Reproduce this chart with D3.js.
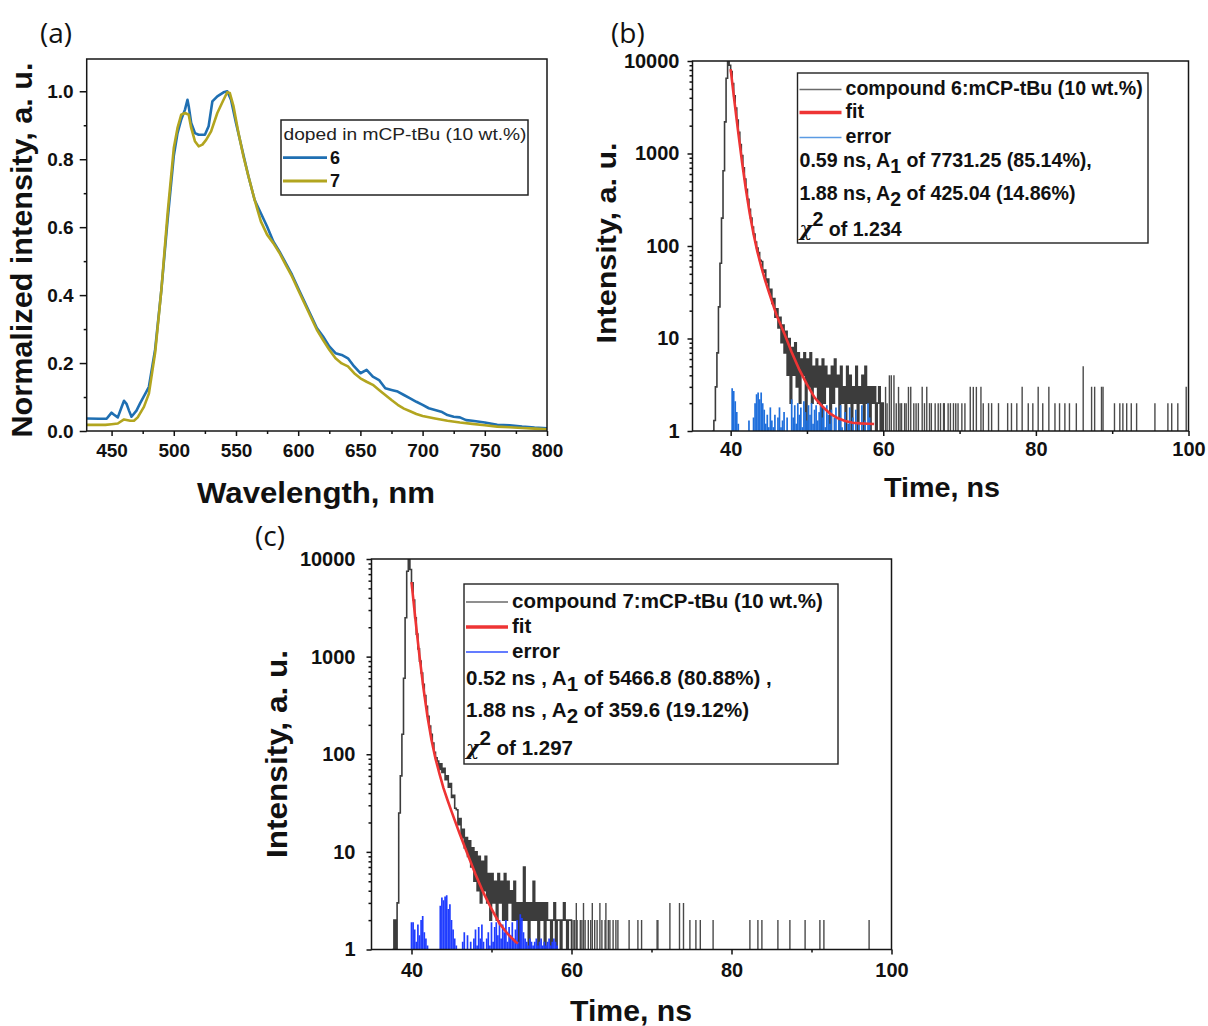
<!DOCTYPE html>
<html><head><meta charset="utf-8">
<script src="https://cdn.jsdelivr.net/npm/d3@7/dist/d3.min.js"></script>
<style>
html,body{margin:0;padding:0;background:#fff;}
svg{display:block;}
</style></head>
<body>
<svg id="fig" width="1208" height="1026" xmlns="http://www.w3.org/2000/svg"></svg>
<script>
// ================= DATA =================
// (a) normalized PL spectra, doped in mCP-tBu (10 wt.%)
const wl6 = [430,440,446,450,452,455,458,460,462,464,466,470,473,478,480,485,490,495,500,503,506,509,511,512,514,517,520,525,528,531,535,540,543,546,550,555,560,565,570,575,580,585,590,595,600,605,610,615,620,625,630,635,640,645,650,655,660,665,670,675,680,685,690,695,700,705,710,715,720,725,730,735,740,750,760,770,780,790,800];
const int6 = [0.037,0.036,0.036,0.054,0.048,0.040,0.070,0.089,0.080,0.060,0.042,0.060,0.082,0.116,0.13,0.24,0.415,0.62,0.81,0.877,0.917,0.946,0.975,0.956,0.907,0.877,0.872,0.872,0.897,0.97,0.985,0.997,1.0,0.975,0.907,0.828,0.75,0.68,0.641,0.602,0.558,0.528,0.494,0.46,0.42,0.381,0.342,0.303,0.278,0.249,0.229,0.224,0.214,0.19,0.17,0.18,0.16,0.15,0.126,0.121,0.116,0.106,0.096,0.086,0.077,0.067,0.062,0.057,0.047,0.042,0.04,0.032,0.03,0.025,0.018,0.017,0.013,0.01,0.008];
const wl7 = [430,445,450,455,460,465,468,471,476,480,485,490,495,500,503,506,509,512,514,517,520,523,526,530,535,540,543,545,548,552,556,560,565,570,575,580,585,590,595,600,605,610,615,620,625,630,635,640,645,650,655,660,665,670,675,680,685,690,695,700,710,720,730,740,750,760,770,780,790,800];
const int7 = [0.018,0.018,0.02,0.022,0.034,0.03,0.03,0.04,0.071,0.11,0.23,0.415,0.64,0.833,0.892,0.931,0.936,0.931,0.892,0.853,0.838,0.843,0.857,0.882,0.936,0.975,0.997,0.995,0.956,0.877,0.808,0.75,0.68,0.617,0.578,0.553,0.524,0.489,0.455,0.415,0.376,0.337,0.298,0.268,0.239,0.214,0.199,0.19,0.17,0.155,0.145,0.136,0.121,0.106,0.091,0.077,0.066,0.058,0.05,0.044,0.037,0.03,0.025,0.021,0.017,0.013,0.011,0.009,0.007,0.005];
const xTicksA = [450,500,550,600,650,700,750,800];
const xMinorA = [475,525,575,625,675,725,775];
const yTicksA = [0,0.2,0.4,0.6,0.8,1.0];
const yMinorA = [0.1,0.3,0.5,0.7,0.9];

// common time axis ticks
const xTicksT = [40,60,80,100];
const xMinorT = [50,70,90];
const yTicksLog = [1,10,100,1000,10000];

// (b) compound 6 decay: counts per channel (start time, channel width)
const decayB_start = 37.6, decayB_step = 0.2;
const decayB = [1,1.3,3,7,22,65,200,650,2200,6500,9800,9000,7700,5700,4200,3100,2300,1700,1250,950,700,530,410,320,250,200,160,135,110,95,85,70,68,52,55,40,44,31,34,24,27,17,21,13,17,9,14,7,12,4,10,2,8,4,9,3,7,2,6,4,7,1,6,3,7,2,5,3,6,2,5,1,6,2,5,3,4,1,5,2,6,3,4,1,5,2,3,1,5,2,4,1,3,2,5,1,3,2,4,1,5,2,3,1,3,2,3,1,2,3,1,2,1];
const tailB_t = [60.3,60.5,60.8,61.05,61.4,61.7,62.0,62.2,62.4,62.8,63.0,63.3,63.6,64.0,64.3,64.6,65.1,65.4,65.7,66.06,66.3,66.8,67.2,67.5,67.9,68.0,68.5,68.8,69.2,69.5,69.8,70.3,70.7,71.4,71.8,72.2,72.8,73.1,73.8,74.2,75.1,76.3,76.8,77.5,78.2,79.0,79.6,80.3,80.9,81.7,82.5,83.1,83.8,84.4,85.3,86.2,87.3,87.7,88.6,88.8,90.3,91.0,91.4,91.9,92.5,93.2,95.6,97.3,97.8,98.6,99.7];
const tailB_v = [3,2,4,4,4,2,3,2,2,2,2,3,3,2,2,2,3,2,3,2,2,2,2,2,2,2,2,2,2,2,2,2,2,3,3,3,3,2,2,2,2,2,2,2,3,2,2,3,2,3,2,2,2,2,2,5,3,3,3,3,2,2,2,2,2,2,2,2,2,2,3];
const fitB_t = [40.0,40.25,40.5,40.75,41.0,41.5,42.0,42.5,43.0,43.5,44.0,44.5,45.0,45.5,46.0,47.0,48.0,49.0,50.0,51.0,52.0,53.0,54.0,55.0,56.0,57.0,58.0,58.8];
const fitB_v = [8150,5430,3640,2455,1670,800,408,225,135,87,60,43,32,24,18,11.5,7.1,4.6,3.2,2.3,1.85,1.55,1.38,1.28,1.23,1.21,1.2,1.19];
const errB_start = 40.0, errB_step = 0.2;
const errB = [1,2.9,2.7,2.1,1.6,1.2,1,1,1,1,1,1,1.3,1,1,1.4,2.0,2.5,2.6,2.2,2.6,2.0,1.7,1.2,1.5,1.1,1.8,1.3,1.1,1.5,1,1.4,1.8,1.1,1.3,1.6,1,1.4,1,1,2.2,1.4,1.9,1.2,2.0,1.5,1.8,1.1,2.1,1.6,1.3,1.9,1.5,2.0,1.2,1.7,1.9,1.3,1.6,2.0,1.4,1.8,1.1,1.9,1.5,1.2,1.7,1,1.4,1.8,1,1.3,1.9,1.1,1,1.6,1,1.2,1.8,1,1.4,1,1.7,1,1.2,1,1.9,1,1.3,1,2.0,1.4,1];

// (c) compound 7 decay
const decayC_start = 37.6, decayC_step = 0.2;
const decayC = [1,2,1,3,25,60,160,600,2500,7500,9900,7800,5700,3800,2500,1700,1200,900,680,520,400,310,245,195,160,130,105,92,85,70,80,65,72,55,60,46,50,36,38,28,27,19,22,14,17,11,14,9,13,7,11,5,10,4,9,3,8,4,9,3,6,2,6,3,5,2,6,3,5,2,6,2,5,3,4,2,5,2,3,1,3,2,7,2,3,1,3,2,5,2,3,1,3,2,3,1,3,2,2,1,2,3,1,2,2,1,2,3,2,1,2,2,1];
const tailC_t = [60.2,60.4,60.6,60.7,61.1,61.3,61.5,61.7,62.1,62.4,62.6,62.9,63.2,63.55,63.8,64.2,64.3,64.6,64.8,65.2,65.55,65.8,67.2,68.3,68.76,70.7,70.8,72.3,73.5,74.0,74.8,75.55,76.1,77.7,82.3,83.3,83.8,85.8,87.3,89.2,91.05,91.55,97.2];
const tailC_v = [2,2,3,2,2,2,3,2,2,2,3,2,2,3,2,2,3,2,2,2,2,2,2,2,2,2,2,3,3,3,2,2,2,2,2,2,2,2,2,2,2,2,2];
const fitC_t = [40.0,40.25,40.5,40.75,41.0,41.5,42.0,42.5,43.0,43.5,44.0,44.5,45.0,46.0,47.0,48.0,49.0,50.0,51.0,52.0,53.0,53.3];
const fitC_v = [5800,3700,2370,1540,1010,470,242,140,90,63,45,34,26,15.5,9.5,5.9,3.8,2.6,1.85,1.45,1.2,1.15];
const errC_start = 40.0, errC_step = 0.2;
const errC = [1.9,1.9,1.6,1.2,1.8,1.4,2.0,2.2,1.5,1.3,1.1,1,1,1,1,1,1,1,2.8,3.4,3.2,3.5,3.6,2.6,2.9,2.0,1.6,1.3,1.1,1,1,1,1.2,1.5,1,1.4,1,1.2,1,1.3,1.6,1.1,1.7,1.3,1.8,1.2,1,1.3,1.5,1.1,1.9,1.2,1.7,1.9,1.4,2.0,1.3,1.8,1.5,2.0,1.2,1.7,1.4,1.9,1.3,1.6,2.0,1.2,2.3,2.1,1.5,1.3,1.2,1.1,1.3,1.2,1.1,1.2,1.3,1.1,1.2,1.3,1.1,1.2,1.1,1.2,1.3,1.1,1.2,1.3,1.2,1.1,1];

// ================= DRAWING =================
const FONT = '"Liberation Sans", Arial, Helvetica, sans-serif';
const svg = d3.select("#fig");
const C6 = "#1f6fb2", C7 = "#b2a51f", GRAY = "#3c3c3c", RED = "#ee3434";

function styleAxis(g, fs) {
  g.select(".domain").remove();
  g.selectAll(".tick line").attr("stroke", "#111").attr("stroke-width", 1.5);
  g.selectAll(".tick text").attr("font-family", FONT).attr("font-weight", "bold")
    .attr("font-size", fs).attr("fill", "#111");
}
function frame(g, x, y) {
  g.append("rect").attr("x", x.range()[0]).attr("y", y.range()[1])
    .attr("width", x.range()[1] - x.range()[0]).attr("height", y.range()[0] - y.range()[1])
    .attr("fill", "none").attr("stroke", "#161616").attr("stroke-width", 1.5);
}
function clip(id, x, y) {
  svg.append("clipPath").attr("id", id).append("rect")
    .attr("x", x.range()[0]).attr("y", y.range()[1])
    .attr("width", x.range()[1] - x.range()[0]).attr("height", y.range()[0] - y.range()[1]);
}
function title(txt, x, y, fs, len, rot) {
  const t = svg.append("text").attr("font-family", FONT).attr("font-weight", "bold")
    .attr("font-size", fs).attr("text-anchor", "middle").attr("fill", "#111")
    .attr("textLength", len).attr("lengthAdjust", "spacingAndGlyphs").text(txt);
  if (rot) t.attr("transform", `translate(${x},${y}) rotate(-90)`);
  else t.attr("x", x).attr("y", y);
}
function panelLabel(txt, x, y) {
  svg.append("text").attr("x", x).attr("y", y).attr("font-family", '"Open Sans", "Noto Sans", sans-serif')
    .attr("font-size", 28).attr("fill", "#111").text(txt);
}

// ---------- (a) ----------
const xA = d3.scaleLinear().domain([430, 800]).range([86.7, 547]);
const yA = d3.scaleLinear().domain([0, 1.095]).range([431, 59]);
clip("clipA", xA, yA);
const gA = svg.append("g");
const dA = gA.append("g").attr("clip-path", "url(#clipA)");
const lineA = d3.line().x(d => xA(d[0])).y(d => yA(d[1]));
dA.append("path").datum(wl6.map((w, i) => [w, int6[i]])).attr("d", lineA)
  .attr("fill", "none").attr("stroke", C6).attr("stroke-width", 2.6).attr("stroke-linejoin", "round");
dA.append("path").datum(wl7.map((w, i) => [w, int7[i]])).attr("d", lineA)
  .attr("fill", "none").attr("stroke", C7).attr("stroke-width", 2.6).attr("stroke-linejoin", "round");
frame(gA, xA, yA);
gA.append("g").attr("transform", "translate(0,431)")
  .call(d3.axisBottom(xA).tickValues(xTicksA).tickSize(5).tickPadding(7.5).tickFormat(d3.format("d")))
  .call(g => styleAxis(g, 19));
gA.append("g").attr("transform", "translate(0,431)")
  .call(d3.axisBottom(xA).tickValues(xMinorA).tickSize(3).tickFormat(""))
  .call(g => styleAxis(g, 19));
gA.append("g").attr("transform", "translate(86.7,0)")
  .call(d3.axisLeft(yA).tickValues(yTicksA).tickSize(7).tickPadding(6).tickFormat(d3.format(".1f")))
  .call(g => styleAxis(g, 19));
gA.append("g").attr("transform", "translate(86.7,0)")
  .call(d3.axisLeft(yA).tickValues(yMinorA).tickSize(3).tickFormat(""))
  .call(g => styleAxis(g, 19));
title("Wavelength, nm", 316, 503, 30, 238, false);
title("Normalized intensity, a. u.", 32, 250, 30, 375, true);
panelLabel("(a)", 40, 43);
// legend (a)
const lgA = svg.append("g");
lgA.append("rect").attr("x", 281).attr("y", 120).attr("width", 247).attr("height", 75)
  .attr("fill", "#fff").attr("stroke", "#222").attr("stroke-width", 1.5);
lgA.append("text").attr("x", 283.5).attr("y", 140).attr("font-family", FONT).attr("font-size", 17)
  .attr("fill", "#222").attr("textLength", 243).attr("lengthAdjust", "spacingAndGlyphs")
  .text("doped in mCP-tBu (10 wt.%)");
[[C6, "6", 157.7], [C7, "7", 181]].forEach(([c, lab, y]) => {
  lgA.append("line").attr("x1", 283).attr("x2", 327).attr("y1", y).attr("y2", y)
    .attr("stroke", c).attr("stroke-width", 2.8);
  lgA.append("text").attr("x", 330).attr("y", y + 6).attr("font-family", FONT).attr("font-weight", "bold")
    .attr("font-size", 18).attr("fill", "#111").text(lab);
});

// ---------- decay panel helper ----------
const minorLog = [];
[1, 10, 100, 1000].forEach(d => { for (let k = 2; k < 10; k++) minorLog.push(d * k); });

function decayPanel(o) {
  const x = o.x, y = o.y;
  clip(o.id, x, y);
  const g = svg.append("g");
  const d = g.append("g").attr("clip-path", `url(#${o.id})`);
  const yb = y(1);
  // measured decay (histogram-like step trace)
  const pts = o.decay.map((v, i) => [o.decayStart + i * o.decayStep, Math.max(v, 1)]);
  d.append("path").datum(pts)
    .attr("d", d3.line().curve(d3.curveStepAfter).x(p => x(p[0])).y(p => y(p[1])))
    .attr("fill", "none").attr("stroke", GRAY).attr("stroke-width", 1.6);
  d.selectAll("line.tail").data(o.tailT.map((t, i) => [t, o.tailV[i]])).join("line")
    .attr("class", "tail").attr("x1", p => x(p[0])).attr("x2", p => x(p[0]))
    .attr("y1", yb).attr("y2", p => y(p[1])).attr("stroke", "#4a4a4a").attr("stroke-width", 1.4);
  // error
  d.selectAll("line.err").data(o.err.map((v, i) => [o.errStart + i * o.errStep, v]).filter(p => p[1] > 1)).join("line")
    .attr("class", "err").attr("x1", p => x(p[0])).attr("x2", p => x(p[0]))
    .attr("y1", yb).attr("y2", p => y(p[1])).attr("stroke", o.errColor).attr("stroke-width", 1.7);
  // fit
  d.append("path").datum(o.fitT.map((t, i) => [t, o.fitV[i]]))
    .attr("d", d3.line().x(p => x(p[0])).y(p => y(p[1])))
    .attr("fill", "none").attr("stroke", RED).attr("stroke-width", 2.6);
  frame(g, x, y);
  const x0 = x.range()[0];
  g.append("g").attr("transform", `translate(0,${yb})`)
    .call(d3.axisBottom(x).tickValues(xTicksT).tickSize(5).tickPadding(o.xPad).tickFormat(d3.format("d")))
    .call(a => styleAxis(a, 20));
  g.append("g").attr("transform", `translate(0,${yb})`)
    .call(d3.axisBottom(x).tickValues(xMinorT).tickSize(3).tickFormat(""))
    .call(a => styleAxis(a, 20));
  g.append("g").attr("transform", `translate(${x0},0)`)
    .call(d3.axisLeft(y).tickValues(yTicksLog).tickSize(5).tickPadding(o.yPad).tickFormat(d3.format("d")))
    .call(a => styleAxis(a, 20));
  g.append("g").attr("transform", `translate(${x0},0)`)
    .call(d3.axisLeft(y).tickValues(minorLog).tickSize(3).tickFormat(""))
    .call(a => styleAxis(a, 20));
  // legend
  const L = o.leg;
  const lg = svg.append("g").attr("font-family", FONT).attr("font-weight", "bold")
    .attr("font-size", L.fs).attr("fill", "#111");
  lg.append("rect").attr("x", L.x).attr("y", L.y).attr("width", L.w).attr("height", L.h)
    .attr("fill", "#fff").attr("stroke", "#222").attr("stroke-width", 1.4);
  const rows = [[o.legLabel, "#6a6a6a", 1.5], ["fit", RED, 3.6], ["error", o.errLegColor, 1.5]];
  rows.forEach((r, i) => {
    const yy = L.rowY[i];
    lg.append("line").attr("x1", L.x + 2).attr("x2", L.x + 44).attr("y1", yy).attr("y2", yy)
      .attr("stroke", r[1]).attr("stroke-width", r[2]);
    lg.append("text").attr("x", L.x + 48).attr("y", yy + 5.5).text(r[0]);
  });
  o.params.forEach((p, i) => {
    const t = lg.append("text").attr("x", L.x + 2).attr("y", L.rowY[3 + i]);
    t.append("tspan").text(p[0]);
    t.append("tspan").attr("dy", 6).text(p[1]);
    t.append("tspan").attr("dy", -6).text(p[2]);
  });
  const tc = lg.append("text").attr("x", L.x + 2).attr("y", L.rowY[5]);
  tc.append("tspan").attr("font-family", '"DejaVu Serif", serif').attr("font-style", "italic").text("χ");
  tc.append("tspan").attr("dy", -10).text("2");
  tc.append("tspan").attr("dy", 10).text(o.chi);
}

// ---------- (b) ----------
decayPanel({
  id: "clipB",
  x: d3.scaleLinear().domain([35, 100]).range([692.5, 1188.5]),
  y: d3.scaleLog().domain([1, 10000]).range([431, 61]),
  decay: decayB, decayStart: decayB_start, decayStep: decayB_step,
  tailT: tailB_t, tailV: tailB_v,
  fitT: fitB_t, fitV: fitB_v,
  err: errB, errStart: errB_start, errStep: errB_step,
  errColor: "#1f6fdc", errLegColor: "#5b9be3",
  xPad: 6, yPad: 8,
  legLabel: "compound 6:mCP-tBu (10 wt.%)",
  params: [["0.59 ns, A", "1", " of 7731.25 (85.14%),"], ["1.88 ns, A", "2", " of 425.04 (14.86%)"]],
  chi: " of 1.234",
  leg: { x: 797.5, y: 73, w: 350.5, h: 170, fs: 19.6, rowY: [89.5, 112.5, 137.5, 167, 200, 236] }
});
title("Time, ns", 942, 497, 28, 116, false);
title("Intensity, a. u.", 616, 243, 28, 201, true);
panelLabel("(b)", 611, 43);

// ---------- (c) ----------
decayPanel({
  id: "clipC",
  x: d3.scaleLinear().domain([35, 100]).range([371.5, 891.5]),
  y: d3.scaleLog().domain([1, 10000]).range([949.5, 559]),
  decay: decayC, decayStart: decayC_start, decayStep: decayC_step,
  tailT: tailC_t, tailV: tailC_v,
  fitT: fitC_t, fitV: fitC_v,
  err: errC, errStart: errC_start, errStep: errC_step,
  errColor: "#1f3cff", errLegColor: "#3050ff",
  xPad: 8.5, yPad: 11,
  legLabel: "compound 7:mCP-tBu (10 wt.%)",
  params: [["0.52 ns , A", "1", " of 5466.8 (80.88%) ,"], ["1.88 ns , A", "2", " of 359.6 (19.12%)"]],
  chi: " of 1.297",
  leg: { x: 464, y: 584, w: 374, h: 180, fs: 20.5, rowY: [602, 627, 652, 685, 717, 755] }
});
title("Time, ns", 631, 1021, 30, 122, false);
title("Intensity, a. u.", 287, 754, 29, 208, true);
panelLabel("(c)", 255, 546);
</script>
</body></html>
